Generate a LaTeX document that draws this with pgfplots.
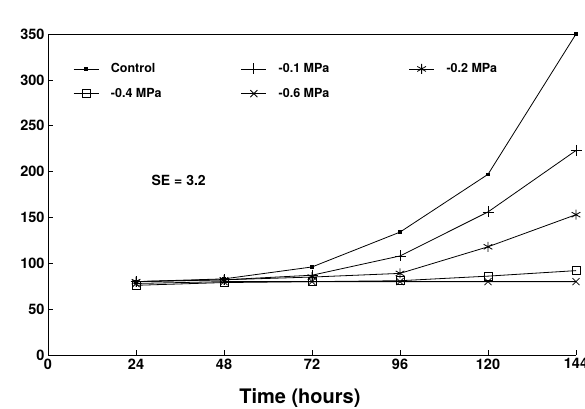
\documentclass[border=0pt]{standalone}
\usepackage{fontspec}
\setmainfont{TeX Gyre Heros}
\usepackage{pgfplots}
\pgfplotsset{compat=1.18}

% fresh weight (mg) against time (h)
\pgfplotstableread{
t   ctrl  m01  m02  m04  m06
24  80    80   80   76   78
48  83    82   82   79   80
72  96    87   85   80   80
96  134   108  89   81   80
120 197   156  118  86   80
144 350   223  153  92   80
}\fw

\begin{document}
\begin{tikzpicture}
\begin{axis}[
  at={(0pt,0pt)}, anchor=south west,
  scale only axis, width=528pt, height=321pt,
  xmin=0, xmax=144, ymin=0, ymax=350,
  axis x line=bottom, axis y line=left,
  axis line style={-, line width=0.8pt},
  xtick={0,24,...,144}, ytick={0,50,...,350},
  tick align=inside, major tick length=5pt,
  tick style={line width=0.7pt, black},
  tick label style={font=\fontsize{14.5}{16}\selectfont\bfseries},
  /pgf/number format/assume math mode=true,
  xlabel={Time (hours)},
  xlabel style={font=\fontsize{20}{22}\selectfont\bfseries,
    at={(axis cs:68.7,0)}, anchor=north, yshift=-30pt},
  legend columns=3,
  legend image code/.code={
    \draw[mark repeat=2,mark phase=2] plot coordinates {(0pt,0pt) (12.5pt,0pt) (25pt,0pt)};},
  legend style={at={(axis cs:6.8,298.5)}, anchor=west, draw=none, fill=none,
    inner sep=0pt, font=\fontsize{12.5}{14}\selectfont\bfseries,
    /tikz/row sep=10pt,
    /tikz/every odd column/.append style={column sep=10pt},
    /tikz/every even column/.append style={column sep=8pt}},
  legend cell align=left,
]
\addplot[black, line width=0.8pt, mark=square*, mark size=1.4pt] table[x=t,y=ctrl] {\fw};
\addlegendentry{\makebox[120pt][l]{Control}}
\addplot[black, line width=0.8pt, mark=+, mark size=5.5pt] table[x=t,y=m01] {\fw};
\addlegendentry{\makebox[120pt][l]{-0.1 MPa}}
\addplot[black, line width=0.8pt, mark=asterisk, mark size=5pt] table[x=t,y=m02] {\fw};
\addlegendentry{-0.2 MPa}
\addplot[black, line width=0.8pt, mark=square, mark size=4pt] table[x=t,y=m04] {\fw};
\addlegendentry{\makebox[120pt][l]{-0.4 MPa}}
\addplot[black, line width=0.8pt, mark=x, mark size=5pt] table[x=t,y=m06] {\fw};
\addlegendentry{\makebox[120pt][l]{-0.6 MPa}}
\draw[line width=0.8pt] (rel axis cs:0,1) -- (rel axis cs:1,1);
\node[anchor=base west, font=\fontsize{13.5}{15}\selectfont\bfseries]
  at (rel axis cs:0,1) [yshift=9pt] {Fresh weight (mg)};
\node[anchor=base west, font=\fontsize{14}{16}\selectfont\bfseries]
  at (axis cs:27.3,185) {SE = 3.2};
\end{axis}
\pgfresetboundingbox
\path (-48pt,-53pt) rectangle (537pt,355pt);
\end{tikzpicture}
\end{document}
